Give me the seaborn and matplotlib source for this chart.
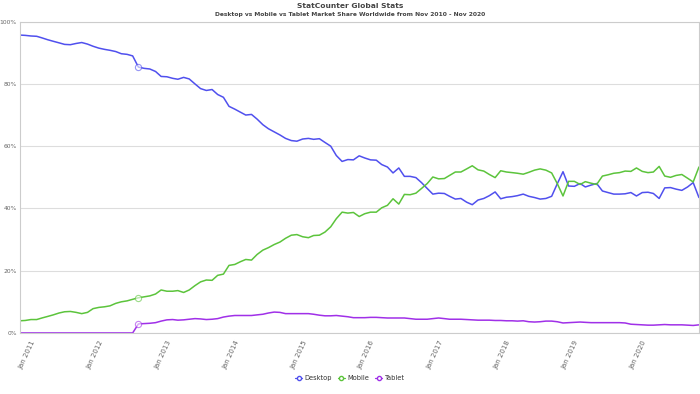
import numpy as np
import pandas as pd
import matplotlib
matplotlib.use('Agg')
import matplotlib.pyplot as plt
from matplotlib.lines import Line2D
import seaborn as sns

sns.set_style('white')
plt.rcParams['font.family'] = ['DejaVu Sans']

# monthly market share (%), Nov 2010 - Nov 2020
months = pd.date_range('2010-11-01', '2020-11-01', freq='MS')

desktop = [95.7, 95.6, 95.4, 95.3, 94.8, 94.2, 93.7, 93.2, 92.7, 92.6,
           93.0, 93.3, 92.8, 92.1, 91.5, 91.1, 90.8, 90.4, 89.7, 89.5,
           89.0, 85.4, 85.0, 84.8, 84.0, 82.4, 82.3, 81.8, 81.5, 82.1,
           81.6, 80.0, 78.5, 77.9, 78.2, 76.6, 75.7, 72.8, 71.9, 70.9,
           70.0, 70.2, 68.7, 66.9, 65.6, 64.6, 63.6, 62.5, 61.8, 61.6,
           62.3, 62.5, 62.2, 62.4, 61.2, 60.0, 57.0, 55.1, 55.7, 55.6,
           56.9, 56.2, 55.6, 55.5, 54.1, 53.3, 51.4, 53.0, 50.3, 50.3,
           49.9, 48.3, 46.4, 44.6, 44.9, 44.8, 43.9, 43.0, 43.2, 42.0,
           41.2, 42.7, 43.2, 44.1, 45.3, 43.1, 43.6, 43.8, 44.1, 44.6,
           43.9, 43.5, 43.0, 43.2, 43.9, 47.9, 51.8, 47.2, 47.1, 48.0,
           46.9, 47.5, 48.0, 45.6, 45.1, 44.6, 44.6, 44.7, 45.1, 44.0,
           45.1, 45.2, 44.8, 43.2, 46.6, 46.7, 46.2, 45.8, 46.9, 48.3, 43.5]

mobile = [3.9, 4.0, 4.3, 4.3, 4.8, 5.3, 5.8, 6.4, 6.8, 6.9,
          6.6, 6.2, 6.6, 7.8, 8.2, 8.4, 8.7, 9.5, 10.0, 10.3,
          10.8, 11.3, 11.6, 11.9, 12.5, 13.8, 13.4, 13.4, 13.6, 13.0,
          13.8, 15.2, 16.4, 17.0, 16.9, 18.5, 18.9, 21.7, 22.0, 22.9,
          23.6, 23.4, 25.2, 26.6, 27.4, 28.4, 29.2, 30.4, 31.4, 31.6,
          30.9, 30.6, 31.3, 31.4, 32.4, 34.1, 36.7, 38.8, 38.5, 38.7,
          37.4, 38.3, 38.8, 38.8, 40.2, 41.0, 43.1, 41.4, 44.5, 44.4,
          44.9, 46.4, 48.0, 50.1, 49.5, 49.6, 50.6, 51.7, 51.7, 52.7,
          53.7, 52.4, 52.0, 50.9, 49.9, 52.1, 51.7, 51.5, 51.3, 51.0,
          51.6, 52.3, 52.7, 52.3, 51.4, 48.0, 44.0, 48.7, 48.7, 47.7,
          48.6, 48.1, 47.7, 50.4, 50.8, 51.3, 51.5, 52.0, 51.9, 53.0,
          51.9, 51.5, 51.7, 53.5, 50.4, 50.0, 50.6, 50.9, 49.7, 48.5, 53.3]

tablet = [0.0] * 21 + [
          2.9, 3.0, 3.1, 3.3, 3.8, 4.2, 4.3, 4.1, 4.2,
          4.4, 4.6, 4.5, 4.3, 4.4, 4.6, 5.1, 5.4, 5.6, 5.6,
          5.6, 5.6, 5.8, 6.0, 6.4, 6.7, 6.6, 6.2, 6.2, 6.2,
          6.2, 6.2, 6.0, 5.7, 5.5, 5.5, 5.6, 5.4, 5.2, 4.9,
          4.9, 4.9, 5.0, 5.0, 4.9, 4.8, 4.8, 4.8, 4.8, 4.6,
          4.4, 4.4, 4.4, 4.6, 4.8, 4.6, 4.4, 4.4, 4.4, 4.3,
          4.2, 4.1, 4.1, 4.1, 4.0, 4.0, 3.9, 3.9, 3.8, 3.9,
          3.6, 3.5, 3.6, 3.8, 3.8, 3.6, 3.2, 3.3, 3.4, 3.5,
          3.4, 3.3, 3.3, 3.3, 3.3, 3.3, 3.3, 3.2, 2.8, 2.7,
          2.6, 2.5, 2.5, 2.6, 2.7, 2.6, 2.6, 2.6, 2.5, 2.4, 2.6]

series = ['Desktop', 'Mobile', 'Tablet']
colors = ['#5050ee', '#5cc43c', '#a030e8']
hover_idx = 21  # point highlighted in the original (Aug 2012)

data = pd.DataFrame({'month': months, 'Desktop': desktop,
                     'Mobile': mobile, 'Tablet': tablet})

fig = plt.figure(figsize=(7, 3.94), dpi=100)
ax = fig.add_axes([0.028, 0.155, 0.9705, 0.79])

for name, col in zip(series, colors):
    sns.lineplot(x='month', y=name, data=data, ax=ax, color=col,
                 linewidth=1.1, label=name, legend=False)
    pt = data.iloc[[hover_idx]]
    sns.scatterplot(x='month', y=name, data=pt, ax=ax, marker='o', s=20,
                    facecolor='white', edgecolor=col, linewidth=0.8,
                    zorder=5, legend=False, alpha=0.6)

ax.set_xlim(months[0], months[-1])
ax.set_ylim(0, 100)
ax.set_yticks(range(0, 101, 20))
ax.set_yticklabels([f'{v}%' for v in range(0, 101, 20)])
ax.set_xlabel('')
ax.set_ylabel('')

jan = [m for m in months if m.month == 1]
ax.set_xticks(jan)
ax.set_xticklabels([m.strftime('%b %Y') for m in jan], rotation=65,
                   ha='right', va='top', rotation_mode='anchor')

ax.grid(axis='y', color='#dddddd', linewidth=0.8)
ax.tick_params(axis='y', length=0, labelsize=4.3, labelcolor='#666666', pad=2)
ax.tick_params(axis='x', length=3, width=0.6, color='#cccccc',
               labelsize=5, labelcolor='#666666', pad=2)
for side in ['left', 'right', 'bottom', 'top']:
    ax.spines[side].set_color('#cccccc')
    ax.spines[side].set_linewidth(0.8)

fig.text(0.5, 0.984, 'StatCounter Global Stats', ha='center', va='center',
         fontsize=5.4, fontweight='bold', color='#444444')
fig.text(0.5, 0.964, 'Desktop vs Mobile vs Tablet Market Share Worldwide from Nov 2010 - Nov 2020',
         ha='center', va='center', fontsize=4.3, fontweight='bold', color='#444444')

handles = [Line2D([0], [0], color=c, marker='o', markersize=3,
                  markerfacecolor='white', linewidth=0.9) for c in colors]
fig.legend(handles, series, loc='center', bbox_to_anchor=(0.5, 0.04),
           ncol=3, frameon=False, fontsize=4.8, handlelength=1.0,
           handletextpad=0.4, columnspacing=0.9, labelcolor='#333333')

fig.savefig('out.png', dpi=100)
